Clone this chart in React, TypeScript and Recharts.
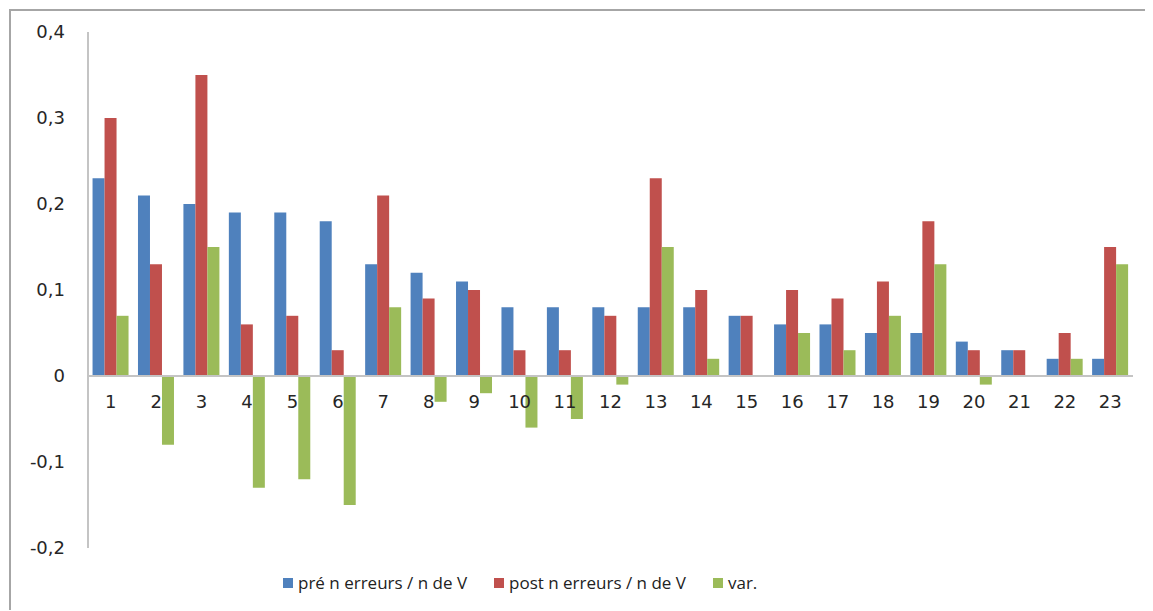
import React from 'react';
import { ComposedChart, Bar, Line, XAxis, YAxis, ReferenceLine, Legend, LabelList } from 'recharts';

const categories = ['1','2','3','4','5','6','7','8','9','10','11','12','13','14','15','16','17','18','19','20','21','22','23'];
const pre = [0.23,0.21,0.20,0.19,0.19,0.18,0.13,0.12,0.11,0.08,0.08,0.08,0.08,0.08,0.07,0.06,0.06,0.05,0.05,0.04,0.03,0.02,0.02];
const post = [0.30,0.13,0.35,0.06,0.07,0.03,0.21,0.09,0.10,0.03,0.03,0.07,0.23,0.10,0.07,0.10,0.09,0.11,0.18,0.03,0.03,0.05,0.15];
const variation = [0.07,-0.08,0.15,-0.13,-0.12,-0.15,0.08,-0.03,-0.02,-0.06,-0.05,-0.01,0.15,0.02,0,0.05,0.03,0.07,0.13,-0.01,0,0.02,0.13];
const yTicks = [-0.2,-0.1,0,0.1,0.2,0.3,0.4];
const seriesNames = ['pré n erreurs / n de V', 'post n erreurs / n de V', 'var.'];
const colors = ['#4F81BD', '#C0504D', '#9BBB59'];

const data = categories.map((name, i) => ({
  name,
  pre: pre[i],
  post: post[i],
  var: variation[i],
  zero: 0,
}));

const fmt = (v: number) => (v === 0 ? '0' : v.toFixed(1).replace('.', ','));

const AXIS_FONT = '"DejaVu Sans", sans-serif';
const LEGEND_FONT = '"Open Sans", "DejaVu Sans", sans-serif';

const renderLegend = () => (
  <div style={{ display: 'flex', alignItems: 'center', fontFamily: LEGEND_FONT, fontSize: 17, color: '#222', whiteSpace: 'nowrap' }}>
    {seriesNames.map((n, i) => (
      <div key={n} style={{ display: 'flex', alignItems: 'center', marginRight: 27 }}>
        <span style={{ display: 'inline-block', width: 10, height: 10, background: colors[i], marginRight: 5 }} />
        <span>{n}</span>
      </div>
    ))}
  </div>
);

export default function App() {
  return (
    <div style={{ position: 'relative', width: 1137, height: 603 }}>
      <div style={{ position: 'absolute', left: 1, top: 1, width: 1142, height: 601, borderTop: '2px solid #a6a6a6', borderLeft: '2px solid #a6a6a6', boxSizing: 'border-box' }} />
      <div style={{ position: 'absolute', left: 0, top: 0 }}>
        <ComposedChart
          width={1137}
          height={603}
          data={data}
          margin={{ top: 24, right: 12, left: 0, bottom: 40 }}
          barCategoryGap="10%"
          barGap={0}
        >
          <XAxis dataKey="name" hide height={0} />
          <YAxis
            domain={[-0.2, 0.4]}
            ticks={yTicks}
            tickFormatter={fmt}
            width={80}
            tickSize={0}
            tickMargin={23}
            axisLine={{ stroke: '#c4c4c4', strokeWidth: 2 }}
            tick={{ fontSize: 18, fill: '#262626', fontFamily: AXIS_FONT }}
            interval={0}
          />
          <ReferenceLine y={0} stroke="#c4c4c4" strokeWidth={2} />
          <Bar dataKey="pre" name={seriesNames[0]} fill={colors[0]} isAnimationActive={false} />
          <Bar dataKey="post" name={seriesNames[1]} fill={colors[1]} isAnimationActive={false} />
          <Bar dataKey="var" name={seriesNames[2]} fill={colors[2]} isAnimationActive={false} />
          <Line dataKey="zero" stroke="none" dot={false} activeDot={false} legendType="none" isAnimationActive={false}>
            <LabelList dataKey="name" position="bottom" offset={19} style={{ fontSize: 18, fill: '#262626', fontFamily: AXIS_FONT }} />
          </Line>
          <Legend
            verticalAlign="bottom"
            content={renderLegend}
            wrapperStyle={{ top: 563, left: 275, bottom: 'auto', width: 'auto' }}
          />
        </ComposedChart>
      </div>
    </div>
  );
}
